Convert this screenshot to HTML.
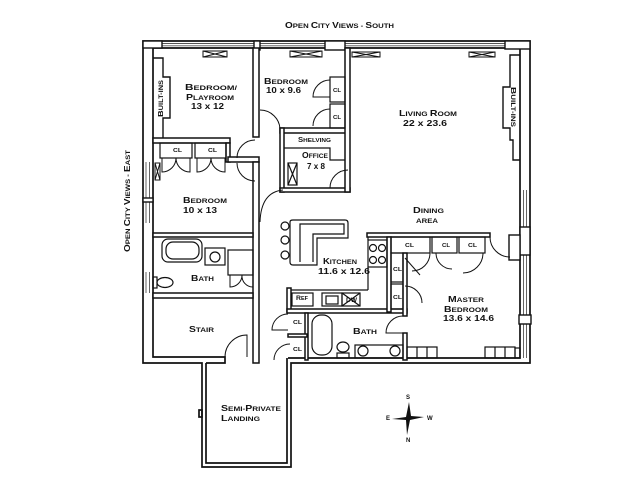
<!DOCTYPE html>
<html><head><meta charset="utf-8"><style>
html,body{margin:0;padding:0;background:#fff;}
svg{display:block;}
text{font-family:"Liberation Sans",sans-serif;font-weight:bold;fill:#111;}
.b{font-size:8.5px}.s{font-size:6.6px}.n{font-size:8px}.c{font-size:5.8px}
</style></head><body>
<svg width="640" height="480" viewBox="0 0 640 480" xmlns="http://www.w3.org/2000/svg">
<rect width="640" height="480" fill="#fff"/>
<!-- exterior -->
<g fill="none" stroke="#111" stroke-width="1.7">
<path d="M143 41 H530 V363 H291 V467 H202 V363 H143 Z"/>
<path d="M153 48 H520 V358 H288"/>
<path d="M153 48 V357 H225 V363 H206"/>
<path d="M206 363 V463 H287 V358"/>
<rect x="199" y="410" width="3" height="7"/>
</g>
<!-- window glass lines -->
<g fill="none" stroke="#555" stroke-width="0.9">
<path d="M162 43.5 H254 M162 45.8 H254 M260 43.5 H325 M260 45.8 H325 M345 43.5 H505 M345 45.8 H505"/>
<path d="M146 162 V223 M149.5 162 V223 M146 272 V293 M149.5 272 V293"/>
<path d="M523.5 190 V227 M526.5 190 V227 M523.5 255 V358 M526.5 255 V358"/>
</g>
<g fill="#fff" stroke="#111" stroke-width="1.4">
<rect x="143" y="41" width="19" height="7"/>
<rect x="254" y="41" width="6" height="9"/>
<rect x="325" y="41" width="20" height="9"/>
<rect x="505" y="41" width="25" height="8"/>
<rect x="143" y="198" width="10" height="4"/>
<rect x="520" y="227" width="10" height="28"/>
<rect x="509" y="235" width="11" height="25"/>
<rect x="519" y="315" width="12" height="9"/>
</g>
<!-- window sills -->
<g fill="none" stroke="#111" stroke-width="1">
<rect x="203" y="51" width="24" height="6"/><path d="M203 51 L227 57 M203 57 L227 51"/>
<rect x="290" y="51" width="32" height="6"/><path d="M290 51 L322 57 M290 57 L322 51"/>
<rect x="352" y="52" width="28" height="5"/><path d="M352 52 L380 57 M352 57 L380 52"/>
<rect x="469" y="52" width="26" height="5"/><path d="M469 52 L495 57 M469 57 L495 52"/>
<rect x="155" y="163" width="5" height="17"/><path d="M155 163 L160 180 M155 180 L160 163"/>
</g>
<!-- built-ins -->
<g fill="none" stroke="#111" stroke-width="1.4">
<path d="M153 58 H163 V77 H170 V118 H163 V138"/>
<path d="M520 55 H510 V87 H503 V128 H510 V140 H513 V160 H520"/>
</g>
<!-- interior walls -->
<g fill="#fff" stroke="#111" stroke-width="1.5">
<rect x="153" y="138" width="77" height="5"/>
<rect x="253" y="48" width="6" height="89"/>
<rect x="226" y="143" width="4" height="19"/>
<rect x="228" y="157" width="31" height="5"/>
<rect x="253" y="162" width="6" height="201"/>
<rect x="153" y="233" width="100" height="4"/>
<rect x="153" y="293" width="100" height="5"/>
<rect x="280" y="128" width="68" height="5"/>
<rect x="280" y="128" width="4" height="64"/>
<rect x="280" y="188" width="70" height="4"/>
<rect x="345" y="48" width="5" height="144"/>
<rect x="287" y="288" width="4" height="24"/>
<rect x="287" y="309" width="120" height="4"/>
<rect x="367" y="233" width="123" height="4"/>
<rect x="387" y="237" width="4" height="75"/>
<rect x="403" y="253" width="4" height="63"/>
<rect x="403" y="333" width="4" height="27"/>
<rect x="305" y="313" width="3" height="47"/>
<rect x="288" y="334" width="19" height="3"/>
</g>
<!-- closets & fixtures -->
<g fill="none" stroke="#111" stroke-width="1.2">
<rect x="160" y="143" width="32" height="15"/>
<rect x="195" y="143" width="31" height="15"/>
<rect x="330" y="77" width="15" height="25"/>
<rect x="330" y="104" width="15" height="24"/>
<rect x="391" y="237" width="39" height="16"/>
<rect x="432" y="237" width="25" height="16"/>
<rect x="459" y="237" width="26" height="16"/>
<rect x="391" y="253" width="12" height="29"/>
<rect x="391" y="284" width="12" height="25"/>
<rect x="228" y="250" width="25" height="25"/>
<path d="M284 148 H330 V160 H345"/>
<rect x="288" y="163" width="9" height="22"/><path d="M288 163 L297 185 M288 185 L297 163"/>
<!-- left bath -->
<rect x="162" y="239" width="40" height="23" rx="6"/>
<rect x="166" y="242" width="33" height="17" rx="7"/>
<rect x="205" y="248" width="20" height="17"/>
<circle cx="215" cy="257" r="5"/>
<rect x="153" y="277" width="4" height="11"/>
<ellipse cx="165" cy="282.5" rx="8" ry="5"/>
<!-- kitchen -->
<path d="M290 222 Q290 220 293 220 H345 Q348 220 348 223 V238 H317 V265 H293 Q290 265 290 262 Z"/>
<path d="M300 262 V224 H344 V234 H313 V262"/>
<circle cx="285" cy="226" r="4"/><circle cx="285" cy="240" r="4"/><circle cx="285" cy="255" r="4"/>
<rect x="368" y="240" width="19" height="27"/>
<circle cx="373" cy="248" r="3.5"/><circle cx="382" cy="248" r="3.5"/><circle cx="373" cy="260" r="3.5"/><circle cx="382" cy="260" r="3.5"/>
<path d="M368 267 V290 M291 290 H368 M368 237 V240"/>
<rect x="292" y="293" width="21" height="13"/>
<rect x="322" y="293" width="20" height="13"/><rect x="326" y="296" width="12" height="8"/>
<rect x="342" y="293" width="18" height="13"/><path d="M342 293 L360 306 M342 306 L360 293"/>
<!-- bottom bath -->
<rect x="312" y="315" width="20" height="40" rx="9"/>
<ellipse cx="343" cy="347" rx="6" ry="5"/><rect x="337" y="353" width="12" height="5"/>
<rect x="355" y="345" width="48" height="13"/>
<circle cx="363" cy="351" r="5"/><circle cx="395" cy="351" r="5"/>
<!-- master radiators -->
<rect x="407" y="347" width="30" height="11"/><path d="M417 347 V358 M427 347 V358"/>
<rect x="485" y="347" width="30" height="11"/><path d="M495 347 V358 M505 347 V358"/>
<rect x="515" y="348" width="5" height="10"/>
</g>
<!-- doors -->
<g fill="none" stroke="#111" stroke-width="1">
<path d="M162 158 V172 A14 14 0 0 0 176 158"/>
<path d="M190 158 V172 A14 14 0 0 1 176 158"/>
<path d="M197 158 V172 A14 14 0 0 0 211 158"/>
<path d="M225 158 V172 A14 14 0 0 1 211 158"/>
<path d="M255 140 A18 18 0 0 0 237 158"/>
<path d="M237 163 A18 18 0 0 0 255 181"/>
<path d="M260 110 A20 20 0 0 1 280 130"/>
<path d="M330 80 A17 17 0 0 0 313 97 H330"/>
<path d="M313 126 A17 17 0 0 1 330 109"/>
<path d="M330 188 A18 18 0 0 1 348 170"/>
<path d="M260 222 Q261 192 283 190"/>
<path d="M230 275 V287 A12 12 0 0 0 242 275 M253 275 V287 A11 11 0 0 1 242 275"/>
<path d="M247 357 V335 A22 22 0 0 0 225 357"/>
<path d="M288 314 A16 16 0 0 0 272 330 H288"/>
<path d="M274 360 A16 16 0 0 1 290 344"/>
<path d="M403 316 A17 17 0 0 0 386 333 H403"/>
<path d="M405 286 A17 17 0 0 1 422 303"/>
<path d="M405 258 L420 275"/>
<path d="M430 253 A18 18 0 0 1 412 271"/>
<path d="M436 253 A16 16 0 0 0 452 269"/>
<path d="M483 253 A20 20 0 0 1 463 273"/>
<path d="M490 237 A20 20 0 0 0 510 257"/>
</g>
<!-- compass -->
<path d="M409 402 L411 416 L424 417 L410 420 L407 435 L406 420 L392 419 L406 417 Z" fill="#111"/>
<!-- labels -->
<text x="285" y="28" textLength="109" lengthAdjust="spacingAndGlyphs"><tspan style="font-size:8px">O</tspan><tspan style="font-size:6.2px">PEN </tspan><tspan style="font-size:8px">C</tspan><tspan style="font-size:6.2px">ITY </tspan><tspan style="font-size:8px">V</tspan><tspan style="font-size:6.2px">IEWS - </tspan><tspan style="font-size:8px">S</tspan><tspan style="font-size:6.2px">OUTH</tspan></text>
<text transform="translate(130,252) rotate(-90)" x="0" y="0" textLength="102" lengthAdjust="spacingAndGlyphs"><tspan style="font-size:8px">O</tspan><tspan style="font-size:6.2px">PEN </tspan><tspan style="font-size:8px">C</tspan><tspan style="font-size:6.2px">ITY </tspan><tspan style="font-size:8px">V</tspan><tspan style="font-size:6.2px">IEWS - </tspan><tspan style="font-size:8px">E</tspan><tspan style="font-size:6.2px">AST</tspan></text>
<text transform="translate(163,117) rotate(-90)" x="0" y="0" textLength="37" lengthAdjust="spacingAndGlyphs"><tspan style="font-size:7.5px">B</tspan><tspan style="font-size:6px">UILT-INS</tspan></text>
<text transform="translate(511,87) rotate(90)" x="0" y="0" textLength="40" lengthAdjust="spacingAndGlyphs"><tspan style="font-size:7.5px">B</tspan><tspan style="font-size:6px">UILT-INS</tspan></text>

<text x="185" y="90" textLength="52" lengthAdjust="spacingAndGlyphs"><tspan class="b">B</tspan><tspan class="s">EDROOM/</tspan></text>
<text x="186" y="100" textLength="48" lengthAdjust="spacingAndGlyphs"><tspan class="b">P</tspan><tspan class="s">LAYROOM</tspan></text>
<text class="n" x="191" y="109" textLength="33" lengthAdjust="spacingAndGlyphs">13 x 12</text>
<text x="264" y="84" textLength="44" lengthAdjust="spacingAndGlyphs"><tspan class="b">B</tspan><tspan class="s">EDROOM</tspan></text>
<text class="n" x="266" y="93" textLength="35" lengthAdjust="spacingAndGlyphs">10 x 9.6</text>
<text class="c" x="333" y="92" textLength="8" lengthAdjust="spacingAndGlyphs">CL</text>
<text class="c" x="333" y="119" textLength="8" lengthAdjust="spacingAndGlyphs">CL</text>
<text class="c" x="173" y="152" textLength="9" lengthAdjust="spacingAndGlyphs">CL</text>
<text class="c" x="208" y="152" textLength="9" lengthAdjust="spacingAndGlyphs">CL</text>
<text x="298" y="142" textLength="33" lengthAdjust="spacingAndGlyphs"><tspan style="font-size:7px">S</tspan><tspan style="font-size:5.8px">HELVING</tspan></text>
<text x="302" y="158" textLength="26" lengthAdjust="spacingAndGlyphs"><tspan class="b">O</tspan><tspan class="s">FFICE</tspan></text>
<text class="n" x="307" y="169" textLength="18" lengthAdjust="spacingAndGlyphs">7 x 8</text>
<text x="183" y="203" textLength="44" lengthAdjust="spacingAndGlyphs"><tspan class="b">B</tspan><tspan class="s">EDROOM</tspan></text>
<text class="n" x="183" y="213" textLength="34" lengthAdjust="spacingAndGlyphs">10 x 13</text>
<text x="399" y="116" textLength="58" lengthAdjust="spacingAndGlyphs"><tspan class="b">L</tspan><tspan class="s">IVING </tspan><tspan class="b">R</tspan><tspan class="s">OOM</tspan></text>
<text class="n" x="403" y="126" textLength="44" lengthAdjust="spacingAndGlyphs">22 x 23.6</text>
<text x="413" y="213" textLength="31" lengthAdjust="spacingAndGlyphs"><tspan class="b">D</tspan><tspan class="s">INING</tspan></text>
<text class="s" x="416" y="223" textLength="22" lengthAdjust="spacingAndGlyphs">AREA</text>
<text class="c" x="405" y="247" textLength="9" lengthAdjust="spacingAndGlyphs">CL</text>
<text class="c" x="442" y="247" textLength="8" lengthAdjust="spacingAndGlyphs">CL</text>
<text class="c" x="468" y="247" textLength="9" lengthAdjust="spacingAndGlyphs">CL</text>
<text class="c" x="393" y="271" textLength="9" lengthAdjust="spacingAndGlyphs">CL</text>
<text class="c" x="393" y="299" textLength="9" lengthAdjust="spacingAndGlyphs">CL</text>
<text x="448" y="302" textLength="36" lengthAdjust="spacingAndGlyphs"><tspan class="b">M</tspan><tspan class="s">ASTER</tspan></text>
<text x="444" y="312" textLength="44" lengthAdjust="spacingAndGlyphs"><tspan class="b">B</tspan><tspan class="s">EDROOM</tspan></text>
<text class="n" x="443" y="321" textLength="51" lengthAdjust="spacingAndGlyphs">13.6 x 14.6</text>
<text x="353" y="334" textLength="24" lengthAdjust="spacingAndGlyphs"><tspan class="b">B</tspan><tspan class="s">ATH</tspan></text>
<text x="191" y="281" textLength="23" lengthAdjust="spacingAndGlyphs"><tspan class="b">B</tspan><tspan class="s">ATH</tspan></text>
<text x="189" y="332" textLength="25" lengthAdjust="spacingAndGlyphs"><tspan class="b">S</tspan><tspan class="s">TAIR</tspan></text>
<text x="323" y="264" textLength="34" lengthAdjust="spacingAndGlyphs"><tspan class="b">K</tspan><tspan class="s">ITCHEN</tspan></text>
<text class="n" x="318" y="274" textLength="52" lengthAdjust="spacingAndGlyphs">11.6 x 12.6</text>
<text x="296" y="300" textLength="12" lengthAdjust="spacingAndGlyphs"><tspan style="font-size:6.5px">R</tspan><tspan style="font-size:5.2px">EF</tspan></text>
<text style="font-size:6.2px" x="346" y="302" textLength="11" lengthAdjust="spacingAndGlyphs">DW</text>
<text class="c" x="293" y="324" textLength="9" lengthAdjust="spacingAndGlyphs">CL</text>
<text class="c" x="293" y="351" textLength="9" lengthAdjust="spacingAndGlyphs">CL</text>
<text x="221" y="411" textLength="60" lengthAdjust="spacingAndGlyphs"><tspan class="b">S</tspan><tspan class="s">EMI-</tspan><tspan class="b">P</tspan><tspan class="s">RIVATE</tspan></text>
<text x="221" y="421" textLength="39" lengthAdjust="spacingAndGlyphs"><tspan class="b">L</tspan><tspan class="s">ANDING</tspan></text>
<text style="font-size:6px" x="406" y="399">S</text>
<text style="font-size:6px" x="406" y="442">N</text>
<text style="font-size:6px" x="386" y="420">E</text>
<text style="font-size:6px" x="427" y="420">W</text>
</svg>
</body></html>
